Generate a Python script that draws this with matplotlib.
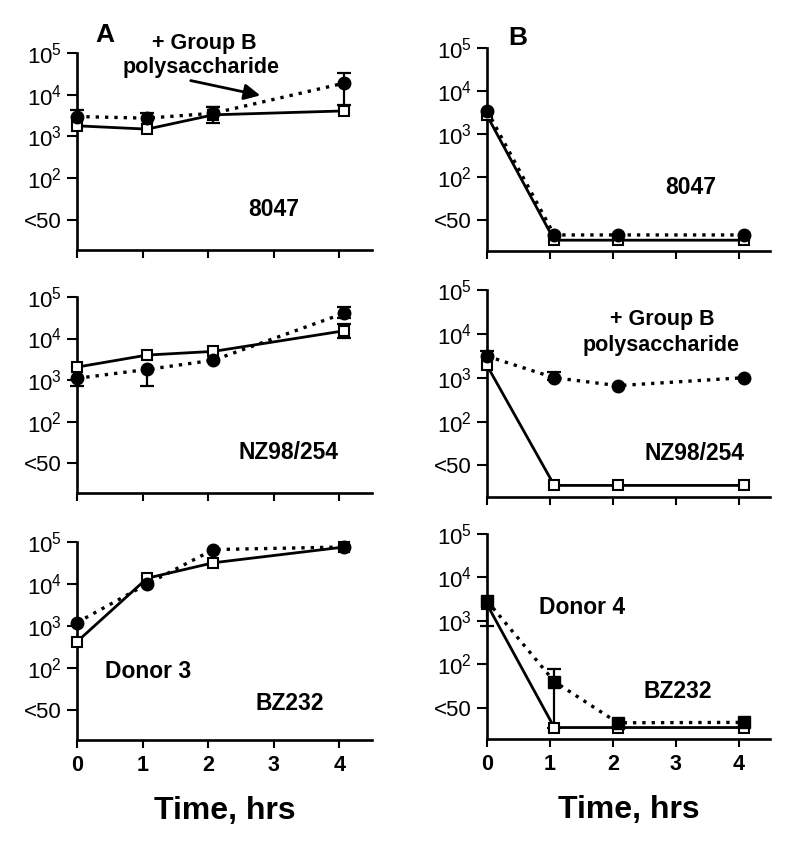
import numpy as np
import matplotlib
matplotlib.use("Agg")
import matplotlib.pyplot as plt

plt.rcParams['font.family'] = ['Liberation Sans', 'DejaVu Sans']
plt.rcParams['mathtext.fontset'] = 'custom'
plt.rcParams['mathtext.rm'] = 'Liberation Sans'
plt.rcParams['mathtext.it'] = 'Liberation Sans'
plt.rcParams['mathtext.bf'] = 'Liberation Sans:bold'

# ---------------- data ----------------
times = [0, 1.07, 2.08, 4.08]
xticks = [0, 1, 2, 3, 4]
ytick_vals = [10, 1e2, 1e3, 1e4, 1e5]
ytick_labels = ['<50', r'$10^2$', r'$10^3$', r'$10^4$', r'$10^5$']

# Panel A, 8047
a1_solid = [1800, 1500, 3300, 4100]
a1_solid_lo = [1800, 1500, 2100, 4100]
a1_solid_hi = [1800, 1500, 5000, 4100]
a1_dot = [3000, 2750, 3600, 19000]
a1_dot_lo = [3000, 2750, 3600, 5600]
a1_dot_hi = [4400, 3600, 5200, 33000]

# Panel A, NZ98/254
a2_solid = [2050, 4000, 4900, 15400]
a2_solid_lo = [2050, 4000, 4900, 10500]
a2_solid_hi = [2050, 4000, 4900, 23000]
a2_dot = [1100, 1800, 3000, 41000]
a2_dot_lo = [710, 710, 3000, 32000]
a2_dot_hi = [1100, 1800, 3000, 56000]

# Panel A, BZ232 (Donor 3)
a3_solid = [420, 13700, 32000, 76000]
a3_solid_lo = [420, 13700, 32000, 76000]
a3_solid_hi = [420, 13700, 32000, 76000]
a3_dot = [1200, 10000, 66000, 76000]
a3_dot_lo = [1200, 10000, 66000, 76000]
a3_dot_hi = [1200, 10000, 66000, 76000]

# Panel B, 8047
b1_solid = [2700, 3.4, 3.4, 3.4]
b1_solid_lo = [2700, 3.4, 3.4, 3.4]
b1_solid_hi = [2700, 3.4, 3.4, 3.4]
b1_dot = [3500, 4.5, 4.5, 4.5]
b1_dot_lo = [3500, 4.5, 4.5, 4.5]
b1_dot_hi = [3500, 4.5, 4.5, 4.5]

# Panel B, NZ98/254
b2_solid = [1900, 3.5, 3.5, 3.5]
b2_solid_lo = [1900, 3.5, 3.5, 3.5]
b2_solid_hi = [1900, 3.5, 3.5, 3.5]
b2_dot = [3100, 1000, 660, 1000]
b2_dot_lo = [3100, 870, 660, 1000]
b2_dot_hi = [4000, 1350, 660, 1000]

# Panel B, BZ232 (Donor 4)
b3_solid = [2400, 3.5, 3.5, 3.5]
b3_solid_lo = [2400, 3.5, 3.5, 3.5]
b3_solid_hi = [2400, 3.5, 3.5, 3.5]
b3_dot = [2900, 40, 4.5, 4.6]
b3_dot_lo = [750, 3.5, 4.5, 4.6]
b3_dot_hi = [2900, 78, 4.5, 4.6]

# ---------------- figure ----------------
fig = plt.figure(figsize=(8, 8.43), dpi=100)
W, H = 800, 843

def px_rect(x0, y_top, x1, y_bot):
    return [x0 / W, 1 - y_bot / H, (x1 - x0) / W, (y_bot - y_top) / H]

rects = {
    'a1': px_rect(77, 53, 372, 250),
    'a2': px_rect(77, 297, 372, 493),
    'a3': px_rect(77, 542, 372, 740),
    'b1': px_rect(487, 48, 770, 251),
    'b2': px_rect(487, 290, 770, 497),
    'b3': px_rect(487, 534, 770, 739),
}

def errs(ax, x, v, lo, hi):
    for xi, vi, l, h in zip(x, v, lo, hi):
        if h > vi:
            ax.vlines(xi, vi, h, color='black', lw=1.6, zorder=2, clip_on=False)
            ax.plot([xi], [h], marker='_', ms=10, mew=1.6, color='black', zorder=2, clip_on=False)
        if l < vi:
            ax.vlines(xi, l, vi, color='black', lw=1.6, zorder=2, clip_on=False)
            ax.plot([xi], [l], marker='_', ms=10, mew=1.6, color='black', zorder=2, clip_on=False)

def panel(key, solid, slo, shi, dot, dlo, dhi, dot_marker='o', xlabels=False):
    ax = fig.add_axes(rects[key])
    ax.set_yscale('log')
    ax.set_ylim(10 ** 0.28, 1e5)
    ax.set_xlim(0, 4.5)
    errs(ax, times, dot, dlo, dhi)
    errs(ax, times, solid, slo, shi)
    ax.plot(times, dot, linestyle=(0, (1, 1.8)), lw=2.4, color='black',
            dash_capstyle='butt', zorder=3, clip_on=False)
    ax.plot(times, solid, '-', lw=2.0, color='black', zorder=3, clip_on=False)
    ax.plot(times, solid, linestyle='none', marker='s', ms=7.5, mfc='white',
            mec='black', mew=1.5, zorder=4, clip_on=False)
    ax.plot(times, dot, linestyle='none', marker=dot_marker,
            ms=9 if dot_marker == 'o' else 8, color='black', zorder=5, clip_on=False)
    for s in ['top', 'right']:
        ax.spines[s].set_visible(False)
    for s in ['left', 'bottom']:
        ax.spines[s].set_linewidth(1.9)
    ax.set_yticks(ytick_vals)
    ax.set_yticklabels(ytick_labels, fontsize=16)
    ax.yaxis.set_minor_locator(matplotlib.ticker.NullLocator())
    ax.set_xticks(xticks)
    ax.tick_params(axis='y', length=7.5, width=1.5, pad=3.5)
    ax.tick_params(axis='x', length=6, width=1.5, pad=5)
    if xlabels:
        ax.set_xticklabels([str(t) for t in xticks], fontsize=15.5, fontweight='bold')
        ax.set_xlabel('Time, hrs', fontsize=23, fontweight='bold', labelpad=14)
    else:
        ax.set_xticklabels([])
    return ax

ax_a1 = panel('a1', a1_solid, a1_solid_lo, a1_solid_hi, a1_dot, a1_dot_lo, a1_dot_hi)
ax_a2 = panel('a2', a2_solid, a2_solid_lo, a2_solid_hi, a2_dot, a2_dot_lo, a2_dot_hi)
ax_a3 = panel('a3', a3_solid, a3_solid_lo, a3_solid_hi, a3_dot, a3_dot_lo, a3_dot_hi, xlabels=True)
ax_b1 = panel('b1', b1_solid, b1_solid_lo, b1_solid_hi, b1_dot, b1_dot_lo, b1_dot_hi)
ax_b2 = panel('b2', b2_solid, b2_solid_lo, b2_solid_hi, b2_dot, b2_dot_lo, b2_dot_hi)
ax_b3 = panel('b3', b3_solid, b3_solid_lo, b3_solid_hi, b3_dot, b3_dot_lo, b3_dot_hi,
              dot_marker='s', xlabels=True)

def ftext(x, y, s, size=16, **kw):
    fig.text(x / W, 1 - y / H, s, fontsize=size, fontweight='bold',
             ha='center', va='center', **kw)

ftext(105, 35, 'A', size=19)
ftext(518, 38, 'B', size=19)

ftext(204, 43, '+ Group B', size=15.5)
ftext(201, 67, 'polysaccharide', size=15.5)
ftext(274, 210, '8047', size=16.5)

ftext(691, 188, '8047', size=16.5)

ftext(289, 452, 'NZ98/254', size=16.5)
ftext(662, 319, '+ Group B', size=15.5)
ftext(661, 345, 'polysaccharide', size=15.5)
ftext(695, 453, 'NZ98/254', size=16.5)

ftext(148, 672, 'Donor 3', size=16.5)
ftext(290, 703, 'BZ232', size=16.5)
ftext(582, 608, 'Donor 4', size=16.5)
ftext(678, 692, 'BZ232', size=16.5)

fig.add_artist(matplotlib.patches.FancyArrowPatch(
    posA=(188 / W, 1 - 80 / H), posB=(263 / W, 1 - 96 / H),
    transform=fig.transFigure, arrowstyle='-|>', mutation_scale=24,
    lw=2, color='black'))

fig.savefig('out.png', dpi=100)
